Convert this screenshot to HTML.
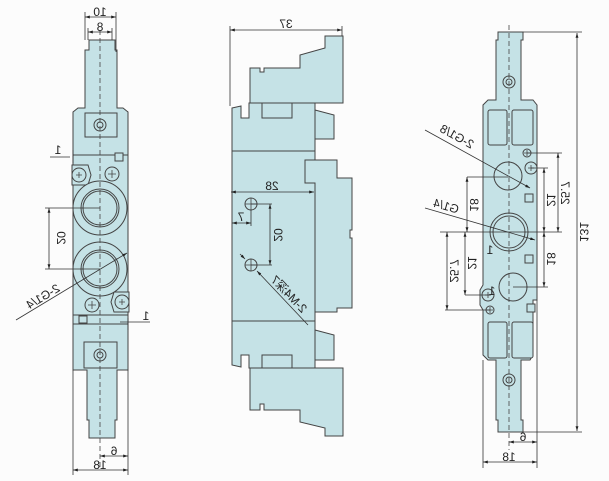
<!DOCTYPE html>
<html><head><style>
html,body{margin:0;padding:0;background:#fcfcfc;}
svg{display:block;}
text{font-family:"Liberation Sans",sans-serif;font-size:12px;fill:#222;}
</style></head><body>
<svg width="609" height="481" viewBox="0 0 609 481" xmlns="http://www.w3.org/2000/svg">
<defs>
<marker id="a" viewBox="0 0 10 10" refX="10" refY="5" markerWidth="6" markerHeight="6" orient="auto-start-reverse"><path d="M0,2L10,5L0,8z" fill="#222"/></marker>
</defs>
<g fill="#c5e2e6" stroke="#444" stroke-width="1">
<path d="M89,40 H115 V50 H117 V108 H123 L128,112 V370 H117 V420 H115 V438 H89 V420 H87 V370 H73 V112 L78,108 H85 V50 H89 Z"/>
<rect x="85" y="113" width="32" height="24"/>
<line x1="73" y1="155" x2="128" y2="155"/>
<line x1="73" y1="315" x2="128" y2="315"/>
<line x1="73" y1="324" x2="128" y2="324"/>
<rect x="84" y="342" width="33" height="26"/>
<path d="M72,165 H88 L91,175 L88,185 H72 Z"/>
<circle cx="79" cy="175" r="7"/>
<path d="M129,292 H114 L111,302 L114,312 H129 Z"/>
<circle cx="122" cy="302" r="7"/>
<circle cx="100" cy="208" r="27"/><circle cx="100" cy="208" r="19"/><circle cx="100" cy="208" r="17"/>
<circle cx="100" cy="269" r="27"/><circle cx="100" cy="269" r="19"/><circle cx="100" cy="269" r="17"/>
<circle cx="112" cy="174" r="7"/><circle cx="92" cy="305" r="7"/>
<circle cx="100" cy="125" r="6"/><circle cx="100" cy="125" r="3"/>
<circle cx="100" cy="355" r="6"/><circle cx="100" cy="355" r="3"/>
<rect x="115" y="153" width="8" height="8"/><rect x="79" y="316" width="8" height="7"/>
<path d="M325,36 H343 V103 H250 V68 H260 V72 H264 V68 H300 V55 L325,48 Z"/>
<path d="M232,108 L241,106 V118 H249 V103 H315 V151 H232 Z"/>
<rect x="262" y="103" width="30" height="15"/>
<path d="M315,110 L334,115 V139 H315 Z"/>
<rect x="232" y="151" width="83" height="170"/>
<path d="M305,160 H337 V178 H352 V230 H350 V238 H352 V308 H337 V312 H315 V183 H305 Z"/>
<path d="M232,321 H315 V368 H249 V355 H241 V367 L232,365 Z"/>
<rect x="262" y="355" width="30" height="13"/>
<path d="M315,330 L334,335 V360 H315 Z"/>
<path d="M250,368 H343 V436 H325 V428 L300,422 V410 H264 V404 H260 V410 H250 Z"/>
<circle cx="251" cy="204" r="6"/><circle cx="251" cy="265" r="6"/>
<path d="M498,32 H523 V40 H521 V100 H533 L537,105 V300 H533 V355 L530,360 H521 V420 H523 V432 H498 V420 H496 V360 H488 L483,355 V310 L480,305 V290 L483,285 V105 L488,100 H496 V40 H498 Z"/>
<rect x="488" y="110" width="19" height="35" rx="2"/><rect x="512" y="110" width="21" height="35" rx="2"/>
<rect x="488" y="322" width="19" height="36" rx="2"/><rect x="512" y="322" width="21" height="36" rx="2"/>
<circle cx="508" cy="176" r="14"/>
<circle cx="509" cy="232" r="19"/><circle cx="509" cy="232" r="16"/>
<circle cx="513" cy="287" r="14"/>
<circle cx="509" cy="82" r="6"/><circle cx="509" cy="82" r="3"/>
<circle cx="509" cy="380" r="6"/><circle cx="509" cy="380" r="3"/>
<circle cx="531" cy="168" r="6"/><circle cx="488" cy="295" r="6"/>
<circle cx="527" cy="153" r="4"/><circle cx="490" cy="310" r="4"/>
<rect x="525" y="194" width="8" height="8"/><rect x="525" y="255" width="8" height="8"/><rect x="527" y="304" width="8" height="8"/>
</g>
<g stroke="#444" stroke-width="0.8" stroke-dasharray="5,3" fill="none">
<line x1="100" y1="30" x2="100" y2="470"/>
<line x1="509" y1="25" x2="509" y2="450"/>
</g>
<g stroke="#444" stroke-width="0.8">
<path d="M76,175h6M79,172v6M119,302h6M122,299v6M108,174h8M112,170v8M88,305h8M92,301v8M528,168h6M531,165v6M485,295h6M488,292v6M524,153h6M527,150v6M487,310h6M490,307v6M245,204h12M251,198v12M245,265h12M251,259v12"/>
</g>
<g stroke="#333" stroke-width="0.8" fill="none">
<path d="M85,12V40M116,12V52M88,28V40M112,28V40"/>
<line x1="85" y1="17" x2="116" y2="17" marker-start="url(#a)" marker-end="url(#a)"/>
<line x1="88" y1="32" x2="112" y2="32" marker-start="url(#a)" marker-end="url(#a)"/>
<path d="M45,208H100M45,269H100"/>
<line x1="49" y1="208" x2="49" y2="269" marker-start="url(#a)" marker-end="url(#a)"/>
<path d="M50,157H70M73,150V163M120,322H150M128,318V330"/>
<line x1="16" y1="320" x2="127" y2="253" marker-end="url(#a)"/>
<path d="M73,370V475M128,370V475"/>
<line x1="100" y1="456" x2="128" y2="456" marker-start="url(#a)" marker-end="url(#a)"/>
<line x1="73" y1="470" x2="128" y2="470" marker-start="url(#a)" marker-end="url(#a)"/>
<path d="M230,26V106M342,26V36"/>
<line x1="230" y1="30" x2="342" y2="30" marker-start="url(#a)" marker-end="url(#a)"/>
<line x1="231" y1="192" x2="314" y2="192" marker-start="url(#a)" marker-end="url(#a)"/>
<path d="M251,204H272M251,265H272M251,210V226"/>
<line x1="270" y1="204" x2="270" y2="265" marker-start="url(#a)" marker-end="url(#a)"/>
<line x1="232" y1="223" x2="251" y2="223" marker-start="url(#a)" marker-end="url(#a)"/>
<line x1="308" y1="325" x2="257" y2="271" marker-end="url(#a)"/>
<line x1="240" y1="254" x2="245" y2="259" marker-end="url(#a)"/>
<path d="M523,32H582M523,432H582"/>
<line x1="577" y1="33" x2="577" y2="431" marker-start="url(#a)" marker-end="url(#a)"/>
<path d="M527,153H562M531,168H548M440,232H562M513,287H548M467,177H508M465,295H490M445,310H490"/>
<line x1="558" y1="153" x2="558" y2="232" marker-start="url(#a)" marker-end="url(#a)"/>
<line x1="544" y1="168" x2="544" y2="232" marker-start="url(#a)" marker-end="url(#a)"/>
<line x1="544" y1="232" x2="544" y2="287" marker-start="url(#a)" marker-end="url(#a)"/>
<line x1="467" y1="177" x2="467" y2="232" marker-start="url(#a)" marker-end="url(#a)"/>
<line x1="465" y1="232" x2="465" y2="295" marker-start="url(#a)" marker-end="url(#a)"/>
<line x1="447" y1="232" x2="447" y2="310" marker-start="url(#a)" marker-end="url(#a)"/>
<line x1="425" y1="130" x2="530" y2="188" marker-end="url(#a)"/>
<line x1="425" y1="208" x2="535" y2="240" marker-end="url(#a)"/>
<path d="M483,360V468M537,300V468"/>
<line x1="509" y1="442" x2="537" y2="442" marker-start="url(#a)" marker-end="url(#a)"/>
<line x1="483" y1="462" x2="537" y2="462" marker-start="url(#a)" marker-end="url(#a)"/>
</g>
<g text-anchor="middle">
<text transform="translate(100,16) scale(-1,1)">10</text>
<text transform="translate(100,31) scale(-1,1)">8</text>
<text transform="translate(57,238) rotate(90) scale(-1,1)">20</text>
<text transform="translate(58,154) scale(-1,1)">1</text>
<text transform="translate(146,320) scale(-1,1)">1</text>
<text transform="translate(45,300) rotate(-31) scale(-1,1)">2-G1/4</text>
<text transform="translate(114,455) scale(-1,1)">6</text>
<text transform="translate(100,469) scale(-1,1)">18</text>
<text transform="translate(286,28) scale(-1,1)">37</text>
<text transform="translate(272,190) scale(-1,1)">28</text>
<text transform="translate(241,221) scale(-1,1)">7</text>
<text transform="translate(274,235) rotate(90) scale(-1,1)">20</text>
<text transform="translate(286,297) rotate(46) scale(-1,1)">2-M4深7</text>
<text transform="translate(580,232) rotate(90) scale(-1,1)">131</text>
<text transform="translate(561,193) rotate(90) scale(-1,1)">25.7</text>
<text transform="translate(547,200) rotate(90) scale(-1,1)">21</text>
<text transform="translate(547,259) rotate(90) scale(-1,1)">18</text>
<text transform="translate(470,205) rotate(90) scale(-1,1)">18</text>
<text transform="translate(468,263) rotate(90) scale(-1,1)">21</text>
<text transform="translate(450,271) rotate(90) scale(-1,1)">25.7</text>
<text transform="translate(455,140) rotate(29) scale(-1,1)">2-G1/8</text>
<text transform="translate(445,210) rotate(16) scale(-1,1)">G1/4</text>
<text transform="translate(490,254) scale(-1,1)">1</text>
<text transform="translate(492,295) scale(-1,1)">1</text>
<text transform="translate(523,441) scale(-1,1)">6</text>
<text transform="translate(509,461) scale(-1,1)">18</text>
</g>
</svg>
</body></html>
